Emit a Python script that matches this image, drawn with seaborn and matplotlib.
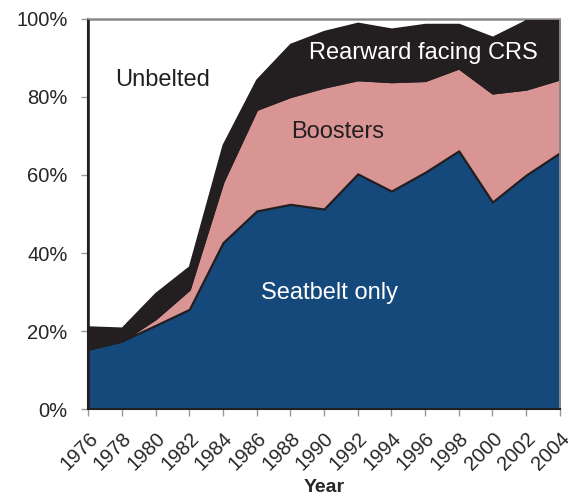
import numpy as np
import matplotlib
matplotlib.use('Agg')
import matplotlib.pyplot as plt
import matplotlib.transforms as mtransforms
import seaborn as sns

# values (percent of children)
years = [1976, 1978, 1980, 1982, 1984, 1986, 1988, 1990,
         1992, 1994, 1996, 1998, 2000, 2002, 2004]
seatbelt = [15.4, 17.5, 21.5, 25.6, 42.7, 50.8, 52.5, 51.3,
            60.3, 55.9, 60.7, 66.2, 53.1, 60.0, 65.7]
boosters_top = [15.4, 17.5, 23.2, 30.7, 58.3, 76.8, 80.1, 82.5,
                84.4, 83.9, 84.2, 87.4, 81.0, 82.0, 84.6]
rearward_top = [21.1, 20.8, 29.7, 36.5, 67.7, 84.4, 93.5, 96.8,
                98.9, 97.4, 98.6, 98.6, 95.3, 99.6, 100.0]
y_ticks = [0, 20, 40, 60, 80, 100]

boosters = np.array(boosters_top) - np.array(seatbelt)
rearward = np.array(rearward_top) - np.array(boosters_top)
unbelted = 100 - np.array(rearward_top)

sns.set_style('ticks')
plt.rcParams['font.family'] = ['Liberation Sans', 'DejaVu Sans']

colors = ['#15497c', '#d99593', '#231f20', '#ffffff']

fig, ax = plt.subplots(figsize=(5.73, 4.96), dpi=100)
fig.subplots_adjust(left=0.154, right=0.977, top=0.962, bottom=0.175)

ax.stackplot(years, seatbelt, boosters, rearward, unbelted,
             colors=colors, edgecolor='#231f20', linewidth=1.5)

ax.set_xlim(1976, 2004)
ax.set_ylim(0, 100)
ax.set_xticks(years)
ax.set_xticklabels([str(y) for y in years], rotation=45,
                   ha='right', rotation_mode='anchor', fontsize=14.5)
# nudge the rotated year labels a little to the right
shift = mtransforms.ScaledTranslation(4 / 100, 0, fig.dpi_scale_trans)
for lbl in ax.get_xticklabels():
    lbl.set_transform(lbl.get_transform() + shift)
ax.set_yticks(y_ticks)
ax.set_yticklabels([f'{t}%' for t in y_ticks], fontsize=14.5)
ax.tick_params(axis='both', direction='out', length=5,
               color='#999999', width=1)
ax.tick_params(axis='x', pad=9)
ax.tick_params(axis='y', pad=10)
ax.set_xlabel('Year', fontsize=14, fontweight='bold', labelpad=4)

for side in ['left', 'bottom']:
    ax.spines[side].set_color('#231f20')
    ax.spines[side].set_linewidth(1.5)
for side in ['top', 'right']:
    ax.spines[side].set_color('#999999')
    ax.spines[side].set_linewidth(1.2)

ax.text(1980.4, 84.4, 'Unbelted', fontsize=17, color='#231f20',
        ha='center', va='center')
ax.text(1995.9, 91.3, 'Rearward facing CRS', fontsize=17, color='white',
        ha='center', va='center')
ax.text(1990.8, 71.0, 'Boosters', fontsize=17, color='#231f20',
        ha='center', va='center')
ax.text(1990.35, 29.7, 'Seatbelt only', fontsize=17, color='white',
        ha='center', va='center')

fig.savefig('out.png', dpi=100)
